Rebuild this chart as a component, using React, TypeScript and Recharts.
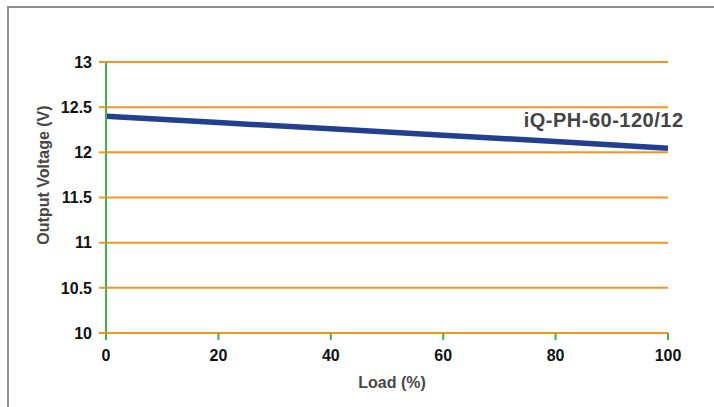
import React from 'react';
import { LineChart, Line, XAxis, YAxis, CartesianGrid, ReferenceDot, Label } from 'recharts';

const loadPct = [0, 20, 40, 60, 80, 100];
const outputVoltage = [12.4, 12.33, 12.26, 12.19, 12.12, 12.045];
const xTicks = [0, 20, 40, 60, 80, 100];
const yTicks = [10, 10.5, 11, 11.5, 12, 12.5, 13];
const seriesName = 'iQ-PH-60-120/12';
const xTitle = 'Load (%)';
const yTitle = 'Output Voltage (V)';

const data = loadPct.map((x, i) => ({ load: x, v: outputVoltage[i] }));

const FONT = '"Liberation Sans", Arial, Helvetica, sans-serif';
const ORANGE = '#f7941d';
const GREEN = '#3db54a';
const BLUE = '#233f8f';

export default function App() {
  return (
    <div style={{ position: 'absolute', left: 0, top: 0, width: 714, height: 407, overflow: 'hidden', background: '#fff' }}>
      <div
        style={{
          position: 'absolute',
          left: 7,
          top: 6,
          width: 714,
          height: 407,
          borderTop: '2px solid #8e8e8e',
          borderLeft: '2px solid #8e8e8e',
        }}
      />
      <div style={{ position: 'absolute', left: 0, top: 0 }}>
        <LineChart width={714} height={407} data={data} margin={{ top: 62, right: 46, bottom: 0, left: 0 }}>
          <CartesianGrid vertical={false} stroke={ORANGE} strokeWidth={2} />
          <XAxis
            dataKey="load"
            type="number"
            domain={[0, 100]}
            ticks={xTicks}
            interval={0}
            height={74}
            axisLine={false}
            tickLine={{ stroke: GREEN, strokeWidth: 2 }}
            tickSize={7}
            tickMargin={10}
            tick={{ fill: '#111', fontSize: 16, fontWeight: 'bold', fontFamily: FONT }}
          >
            <Label
              content={({ viewBox }: any) => (
                <text
                  x={viewBox.x + viewBox.width / 2 + 5}
                  y={viewBox.y + 54.7}
                  textAnchor="middle"
                  fill="#474747"
                  fontSize={16}
                  fontWeight="bold"
                  fontFamily={FONT}
                >
                  {xTitle}
                </text>
              )}
            />
          </XAxis>
          <YAxis
            type="number"
            domain={[10, 13]}
            ticks={yTicks}
            interval={0}
            width={106}
            axisLine={{ stroke: GREEN, strokeWidth: 2 }}
            tickLine={{ stroke: ORANGE, strokeWidth: 2 }}
            tickSize={7}
            tickMargin={7}
            tick={{ fill: '#111', fontSize: 16, fontWeight: 'bold', fontFamily: FONT }}
          >
            <Label
              content={({ viewBox }: any) => {
                const cx = 49;
                const cy = viewBox.y + 113;
                return (
                  <text
                    x={cx}
                    y={cy}
                    transform={`rotate(-90 ${cx} ${cy})`}
                    textAnchor="middle"
                    fill="#474747"
                    fontSize={16}
                    fontWeight="bold"
                    fontFamily={FONT}
                  >
                    {yTitle}
                  </text>
                );
              }}
            />
          </YAxis>
          <Line
            type="linear"
            dataKey="v"
            stroke={BLUE}
            strokeWidth={5.5}
            dot={false}
            activeDot={false}
            isAnimationActive={false}
          />
          <ReferenceDot
            x={loadPct[loadPct.length - 1]}
            y={outputVoltage[outputVoltage.length - 1]}
            r={0}
            fill="none"
            stroke="none"
            ifOverflow="visible"
          >
            <Label
              content={({ viewBox }: any) => (
                <text
                  x={viewBox.x + 15.5}
                  y={viewBox.y - 21.6}
                  textAnchor="end"
                  fill="#444"
                  fontSize={20}
                  fontWeight="bold"
                  letterSpacing={0.5}
                  fontFamily={FONT}
                >
                  {seriesName}
                </text>
              )}
            />
          </ReferenceDot>
        </LineChart>
      </div>
    </div>
  );
}
